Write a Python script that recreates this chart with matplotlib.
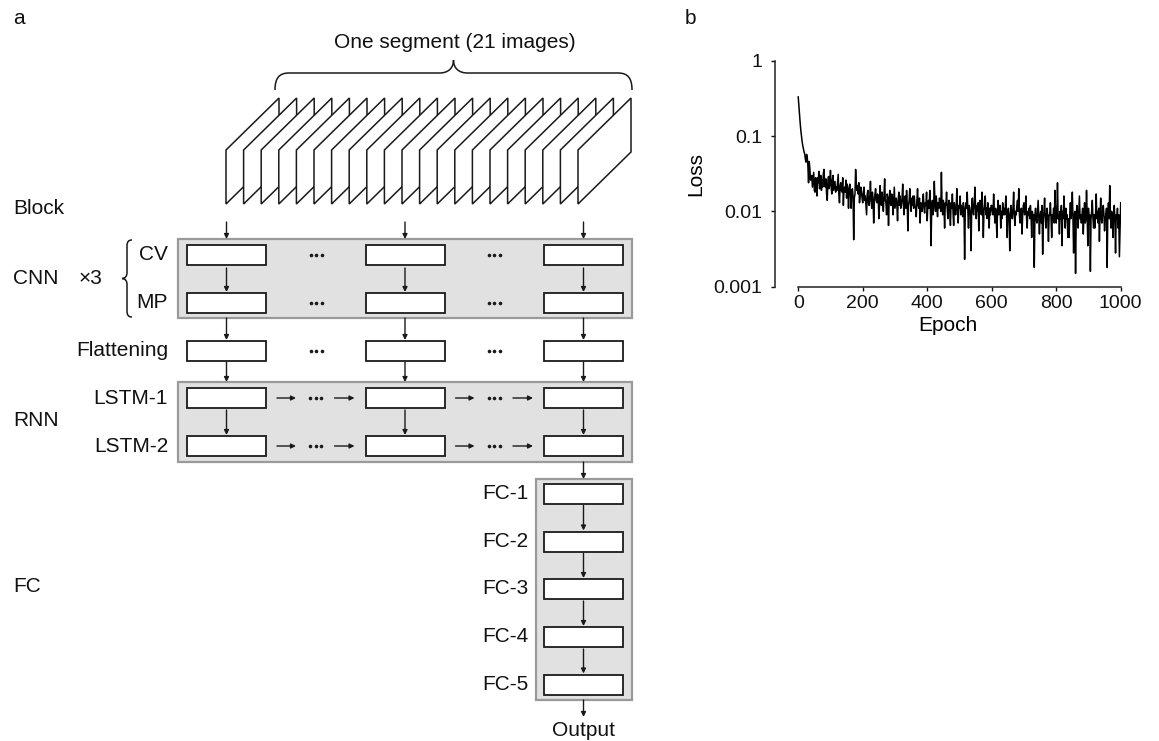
import matplotlib
matplotlib.use('Agg')

import numpy as np
import matplotlib.pyplot as plt
from matplotlib.patches import Rectangle, Polygon, PathPatch
from matplotlib.path import Path

plt.rcParams['font.family'] = ['Liberation Sans', 'DejaVu Sans']

# ----------------------------
# data
# ----------------------------
n_images = 21
cnn_rows = ["CV", "MP"]
rnn_rows = ["LSTM-1", "LSTM-2"]
fc_rows = ["FC-1", "FC-2", "FC-3", "FC-4", "FC-5"]
group_labels = ["Block", "CNN", "RNN", "FC"]

# training loss, read every 2 epochs
epoch_step = 2
loss = [
    0.33, 0.25, 0.19, 0.15, 0.12, 0.10, 0.085, 0.075, 0.068, 0.062,
    0.058, 0.050, 0.045, 0.057, 0.052, 0.040, 0.024, 0.046, 0.038, 0.026,
    0.027, 0.030, 0.021, 0.026, 0.033, 0.019, 0.018, 0.028, 0.022, 0.016,
    0.028, 0.024, 0.034, 0.020, 0.022, 0.030, 0.019, 0.026, 0.021, 0.032,
    0.036, 0.023, 0.021, 0.027, 0.017, 0.014, 0.025, 0.029, 0.020, 0.024,
    0.035, 0.022, 0.017, 0.026, 0.030, 0.019, 0.022, 0.025, 0.018, 0.021,
    0.019, 0.024, 0.031, 0.017, 0.013, 0.022, 0.024, 0.019, 0.018, 0.028,
    0.012, 0.020, 0.021, 0.018, 0.026, 0.015, 0.023, 0.019, 0.011, 0.020,
    0.023, 0.017, 0.011, 0.019, 0.020, 0.016, 0.0042, 0.015, 0.017, 0.036,
    0.024, 0.019, 0.022, 0.017, 0.024, 0.013, 0.016, 0.021, 0.018, 0.015,
    0.013, 0.018, 0.021, 0.014, 0.016, 0.012, 0.009, 0.017, 0.019, 0.013,
    0.012, 0.016, 0.025, 0.014, 0.011, 0.018, 0.015, 0.007, 0.013, 0.017,
    0.020, 0.014, 0.013, 0.017, 0.016, 0.008, 0.012, 0.022, 0.015, 0.012,
    0.018, 0.013, 0.010, 0.016, 0.027, 0.014, 0.013, 0.009, 0.017, 0.015,
    0.0065, 0.014, 0.019, 0.013, 0.012, 0.017, 0.015, 0.009, 0.014, 0.021,
    0.011, 0.013, 0.015, 0.012, 0.0075, 0.014, 0.018, 0.012, 0.016, 0.011,
    0.012, 0.015, 0.023, 0.013, 0.009, 0.014, 0.016, 0.011, 0.019, 0.013,
    0.0055, 0.012, 0.014, 0.020, 0.013, 0.010, 0.015, 0.012, 0.016, 0.011,
    0.016, 0.012, 0.011, 0.0085, 0.014, 0.020, 0.012, 0.011, 0.015, 0.007,
    0.013, 0.012, 0.010, 0.014, 0.017, 0.011, 0.0095, 0.013, 0.012, 0.018,
    0.0075, 0.012, 0.014, 0.011, 0.019, 0.010, 0.0035, 0.012, 0.014, 0.009,
    0.011, 0.025, 0.013, 0.010, 0.016, 0.012, 0.0085, 0.013, 0.011, 0.015,
    0.013, 0.010, 0.033, 0.012, 0.009, 0.014, 0.011, 0.006, 0.013, 0.012,
    0.018, 0.011, 0.008, 0.012, 0.014, 0.010, 0.0065, 0.013, 0.011, 0.017,
    0.010, 0.0065, 0.013, 0.011, 0.009, 0.012, 0.020, 0.010, 0.007, 0.012,
    0.011, 0.016, 0.009, 0.012, 0.010, 0.0085, 0.013, 0.011, 0.0023, 0.010,
    0.013, 0.011, 0.018, 0.010, 0.006, 0.012, 0.011, 0.009, 0.003, 0.012,
    0.015, 0.010, 0.009, 0.013, 0.021, 0.011, 0.008, 0.012, 0.010, 0.013,
    0.0055, 0.011, 0.014, 0.010, 0.009, 0.018, 0.011, 0.0045, 0.010, 0.012,
    0.016, 0.009, 0.011, 0.008, 0.013, 0.010, 0.006, 0.011, 0.009, 0.012,
    0.012, 0.010, 0.009, 0.017, 0.010, 0.007, 0.011, 0.009, 0.0045, 0.010,
    0.014, 0.009, 0.010, 0.012, 0.006, 0.010, 0.008, 0.013, 0.009, 0.011,
    0.009, 0.011, 0.016, 0.009, 0.0045, 0.010, 0.011, 0.008, 0.003, 0.009,
    0.012, 0.009, 0.008, 0.011, 0.018, 0.009, 0.0065, 0.010, 0.009, 0.012,
    0.014, 0.010, 0.020, 0.009, 0.007, 0.010, 0.011, 0.005, 0.009, 0.012,
    0.013, 0.009, 0.010, 0.016, 0.008, 0.006, 0.010, 0.009, 0.011, 0.008,
    0.012, 0.009, 0.0045, 0.010, 0.008, 0.009, 0.0018, 0.009, 0.011, 0.008,
    0.007, 0.010, 0.014, 0.008, 0.005, 0.009, 0.010, 0.007, 0.012, 0.0027,
    0.008, 0.010, 0.015, 0.008, 0.006, 0.009, 0.011, 0.008, 0.004, 0.009,
    0.009, 0.013, 0.008, 0.0045, 0.009, 0.008, 0.011, 0.007, 0.019, 0.009,
    0.007, 0.010, 0.024, 0.008, 0.009, 0.005, 0.010, 0.008, 0.012, 0.0035,
    0.010, 0.008, 0.016, 0.009, 0.006, 0.011, 0.008, 0.009, 0.0045, 0.008,
    0.0045, 0.009, 0.013, 0.008, 0.010, 0.018, 0.008, 0.0028, 0.009, 0.010,
    0.0015, 0.008, 0.012, 0.009, 0.006, 0.010, 0.016, 0.008, 0.009, 0.007,
    0.009, 0.011, 0.005, 0.009, 0.013, 0.007, 0.008, 0.019, 0.009, 0.0035,
    0.011, 0.008, 0.009, 0.0016, 0.008, 0.010, 0.014, 0.008, 0.006, 0.009,
    0.006, 0.009, 0.017, 0.008, 0.010, 0.007, 0.011, 0.004, 0.009, 0.015,
    0.008, 0.007, 0.010, 0.012, 0.009, 0.0055, 0.008, 0.009, 0.011, 0.0018,
    0.009, 0.013, 0.008, 0.022, 0.009, 0.006, 0.010, 0.008, 0.0045, 0.009,
    0.012, 0.008, 0.0028, 0.009, 0.008, 0.011, 0.006, 0.009, 0.0025, 0.006,
    0.013,
]
epochs = np.arange(len(loss)) * epoch_step

loss_yticks = [0.001, 0.01, 0.1, 1]
loss_yticklabels = ["0.001", "0.01", "0.1", "1"]
loss_xticks = [0, 200, 400, 600, 800, 1000]

# ----------------------------
# layout (pixels, origin top-left)
# ----------------------------
W, H = 1159, 741
FS = 15
EDGE = "#1a1a1a"
GRAY_FILL = "#e1e1e1"
GRAY_EDGE = "#9a9a9a"

col_x = [226.5, 405, 583.5]
box_w, box_h = 79, 20

fig = plt.figure(figsize=(W / 100, H / 100), dpi=100)
ax = fig.add_axes([0, 0, 1, 1])
ax.set_xlim(0, W)
ax.set_ylim(H, 0)
ax.axis("off")


def txt(x, y, s, ha="left", **kw):
    ax.text(x, y, s, ha=ha, va="center", fontsize=FS, color="#111111", **kw)


def arrow(x0, y0, x1, y1):
    ax.annotate("", xy=(x1, y1), xytext=(x0, y0),
                arrowprops=dict(arrowstyle="-|>", lw=1.0, color=EDGE,
                                mutation_scale=7, shrinkA=0, shrinkB=0),
                zorder=5)


def box(cx, yc):
    ax.add_patch(Rectangle((cx - box_w / 2, yc - box_h / 2), box_w, box_h,
                           facecolor="white", edgecolor=EDGE, lw=1.3, zorder=4))


def panel(x0, y0, x1, y1):
    ax.add_patch(Rectangle((x0, y0), x1 - x0, y1 - y0, facecolor=GRAY_FILL,
                           edgecolor=GRAY_EDGE, lw=1.6, zorder=1))


def dots(x, y):
    ax.plot([x - 5.5, x, x + 5.5], [y, y, y], "o", ms=2.6, color=EDGE,
            mec="none", zorder=5)


def brace(p0, p1, depth, body, r, lw=1.1):
    # curly brace from p0 to p1, tip on the left of the p0->p1 direction
    p0 = np.array(p0, float)
    p1 = np.array(p1, float)
    L = np.linalg.norm(p1 - p0)
    u = (p1 - p0) / L
    n = np.array([u[1], -u[0]])
    half = [(0, 0), (0, body * 0.7), (r * 0.3, body), (r, body),
            (L / 2 - r, body), (L / 2 - r * 0.4, body), (L / 2, body + (depth - body) * 0.35),
            (L / 2, depth)]
    other = [(L - a, b) for a, b in reversed(half[:-1])]
    pts = half + other
    codes = [Path.MOVETO, Path.CURVE4, Path.CURVE4, Path.CURVE4, Path.LINETO,
             Path.CURVE4, Path.CURVE4, Path.CURVE4,
             Path.CURVE4, Path.CURVE4, Path.CURVE4, Path.LINETO,
             Path.CURVE4, Path.CURVE4, Path.CURVE4]
    xy = [p0 + a * u + b * n for a, b in pts]
    ax.add_patch(PathPatch(Path(xy, codes), fill=False, lw=lw, edgecolor=EDGE))


# panel letters
txt(13, 18, "a")
txt(685, 18, "b")

# image stack
fx0, fdx, fw, fh, fslant = 226, 17.6, 53, 54, 52
for i in range(n_images):
    x = fx0 + i * fdx
    ax.add_patch(Polygon([(x, 150 + fh), (x, 150), (x + fw, 150 - fslant),
                          (x + fw, 150 - fslant + fh)], closed=True,
                         facecolor="white", edgecolor=EDGE, lw=1.1,
                         joinstyle="miter", zorder=2 + i * 0.01))

brace((275, 90), (632, 90), 30, 17, 14)
txt(455, 42, "One segment (21 images)", ha="center")

# left group labels
txt(13, 208, group_labels[0])
txt(13, 278, group_labels[1])
txt(13, 420, group_labels[2])
txt(13, 587, group_labels[3])
txt(79, 278, "\u00d73")
brace((132, 317), (132, 240), 10, 5, 6)

# CNN block
cnn_y = [255, 303]
panel(178, 239, 632, 318)
for lab, y in zip(cnn_rows, cnn_y):
    txt(168, y, lab, ha="right")
    for cx in col_x:
        box(cx, y)
    dots(316, y)
    dots(494, y)
for cx in col_x:
    arrow(cx, 222, cx, 239)
    arrow(cx, 268, cx, 292)
    arrow(cx, 318, cx, 340)

# flattening
flat_y = 350.5
txt(168, flat_y, "Flattening", ha="right")
for cx in col_x:
    box(cx, flat_y)
    arrow(cx, 362, cx, 382)
dots(316, flat_y)
dots(494, flat_y)

# RNN block
rnn_y = [398, 446]
panel(178, 382, 632, 462)
for lab, y in zip(rnn_rows, rnn_y):
    txt(168, y, lab, ha="right")
    for cx in col_x:
        box(cx, y)
    for xa, xb in [(col_x[0], col_x[1]), (col_x[1], col_x[2])]:
        r = xa + box_w / 2
        l = xb - box_w / 2
        mid = (r + l) / 2
        arrow(r + 11, y, r + 30, y)
        dots(mid, y)
        arrow(l - 31, y, l - 11, y)
for cx in col_x:
    arrow(cx, 410, cx, 435)
arrow(col_x[2], 462, col_x[2], 479)

# FC block
fc_y = [493.5, 541.5, 589, 637, 684.5]
panel(536, 479, 632, 700)
for k, (lab, y) in enumerate(zip(fc_rows, fc_y)):
    txt(528, y, lab, ha="right")
    box(col_x[2], y)
    if k < len(fc_rows) - 1:
        arrow(col_x[2], y + box_h / 2 + 2, col_x[2], fc_y[k + 1] - box_h / 2 - 1)
arrow(col_x[2], 700, col_x[2], 717)
txt(col_x[2], 730, "Output", ha="center")

# ----------------------------
# loss panel
# ----------------------------
xmin = -72
lx0, lx1, ly0, ly1 = 775, 1120.7, 286.7, 60.7
bx = fig.add_axes([lx0 / W, 1 - ly0 / H, (lx1 - lx0) / W, (ly0 - ly1) / H])
bx.plot(epochs, loss, color="black", lw=1.1)
bx.set_yscale("log")
bx.set_xlim(xmin, 1000)
bx.set_ylim(0.001, 1)
bx.set_yticks(loss_yticks)
bx.set_yticklabels(loss_yticklabels)
bx.yaxis.set_minor_locator(matplotlib.ticker.NullLocator())
bx.set_xticks(loss_xticks)
bx.spines["top"].set_visible(False)
bx.spines["right"].set_visible(False)
bx.spines["bottom"].set_bounds(0, 1000)
for s in ["left", "bottom"]:
    bx.spines[s].set_linewidth(1.1)
    bx.spines[s].set_color("#222222")
bx.tick_params(direction="out", length=3, width=1.0, labelsize=14, colors="#111111")
bx.tick_params(axis="y", pad=6)
bx.tick_params(axis="x", pad=3)
bx.set_xlabel("Epoch", fontsize=15, labelpad=3)
bx.set_ylabel("Loss", fontsize=15, labelpad=6)
bx.patch.set_alpha(0)

fig.savefig("out.png", dpi=100)
